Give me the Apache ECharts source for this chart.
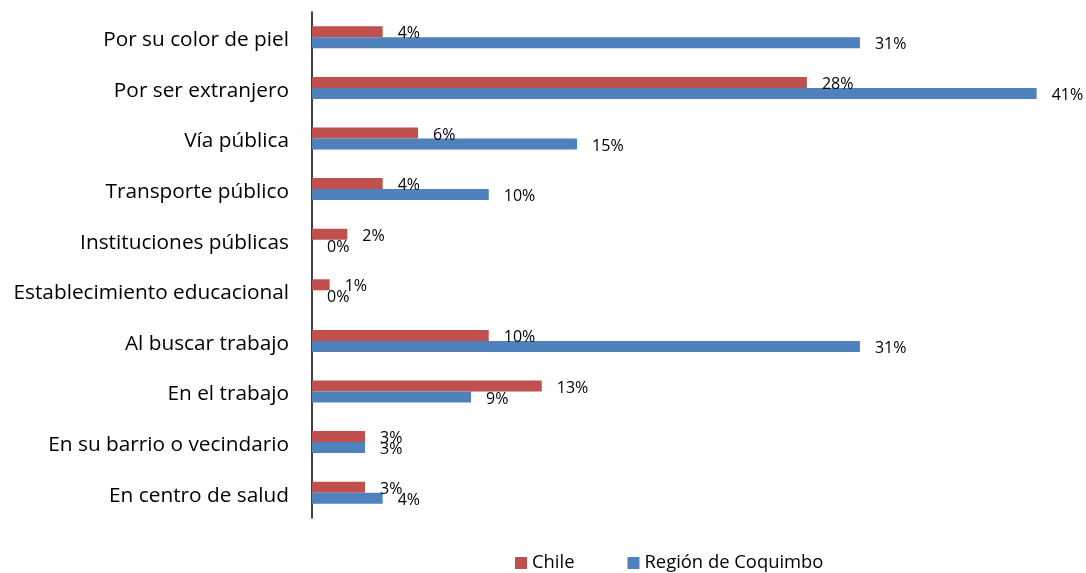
<!DOCTYPE html>
<html><head><meta charset="utf-8">
<script src="https://cdn.jsdelivr.net/npm/echarts@6/dist/echarts.min.js"></script>
<style>html,body{margin:0;padding:0;background:#fff}#c{width:1086px;height:573px}</style>
</head><body><div id="c"></div>
<script>
const categories = ["Por su color de piel","Por ser extranjero","Vía pública","Transporte público","Instituciones públicas","Establecimiento educacional","Al buscar trabajo","En el trabajo","En su barrio o vecindario","En centro de salud"];
const chileValues = [4,28,6,4,2,1,10,13,3,3];
const coquimboValues = [31,41,15,10,0,0,31,9,3,4];
const seriesNames = ["Chile","Región de Coquimbo"];

const FONT = "Open Sans";
const chart = echarts.init(document.getElementById('c'));
const lbl = {show:true, position:'right', distance:15, offset:[0,2], formatter:'{c}%', fontFamily:FONT, fontSize:16, color:'#000'};
chart.setOption({
  animation:false,
  textStyle:{fontFamily:FONT},
  grid:{left:312, top:12, width:760, height:506},
  xAxis:{type:'value', min:0, max:43, show:false},
  yAxis:{type:'category', data:categories, inverse:true,
    axisLine:{show:true, lineStyle:{color:'#000', width:1.5}},
    axisTick:{show:false},
    axisLabel:{margin:23, formatter:'{a|{value}}',
      rich:{a:{fontFamily:FONT, fontSize:20.8, color:'#000', padding:[6,0,0,0]}}}},
  legend:{top:549, left:510, itemWidth:12, itemHeight:12, itemGap:53,
    icon:'rect', textStyle:{fontFamily:FONT, fontSize:18.4, color:'#000'}, data:seriesNames},
  series:[
    {name:seriesNames[0], type:'bar', data:chileValues, barWidth:11, barGap:'0%',
      itemStyle:{color:'#C0504D'}, label:lbl},
    {name:seriesNames[1], type:'bar', data:coquimboValues, barWidth:11, barGap:'0%',
      itemStyle:{color:'#4F81BD'}, label:lbl}
  ]
});
</script></body></html>
